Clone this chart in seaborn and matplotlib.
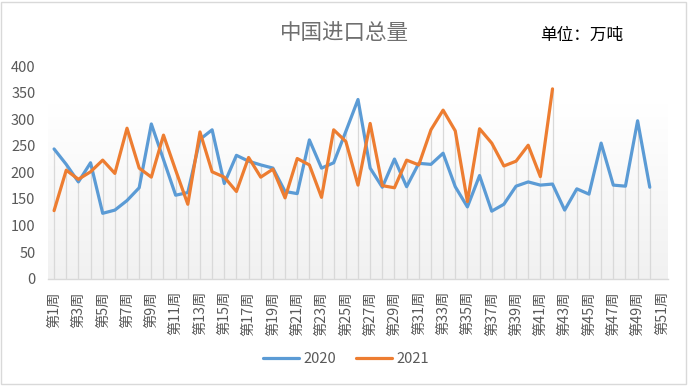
import numpy as np
import pandas as pd
import matplotlib
matplotlib.use("Agg")
import matplotlib.pyplot as plt
from matplotlib.patches import Rectangle
import seaborn as sns

# ---- data ----
weeks = [f"第{i}周" for i in range(1, 52)]
v2020 = [244, 215, 182, 218, 123, 129, 147, 171, 291, 224,
         157, 162, 262, 280, 179, 232, 221, 214, 208, 164,
         160, 261, 208, 218, 277, 337, 208, 172, 225, 173,
         217, 215, 236, 173, 135, 194, 127, 140, 174, 182,
         176, 178, 129, 169, 159, 255, 176, 174, 297, 172]
v2021 = [128, 204, 187, 201, 223, 198, 283, 208, 191, 270,
         204, 140, 276, 201, 191, 164, 228, 191, 206, 152,
         226, 214, 153, 280, 258, 176, 292, 175, 171, 223,
         214, 280, 317, 278, 145, 282, 255, 212, 221, 251,
         192, 357]
years = ["2020", "2021"]
title = "中国进口总量"
unit = "单位：万吨"
yticks = [0, 50, 100, 150, 200, 250, 300, 350, 400]

df = pd.concat([
    pd.DataFrame({"idx": np.arange(len(v2020)), "week": weeks[:len(v2020)], "value": v2020, "year": years[0]}),
    pd.DataFrame({"idx": np.arange(len(v2021)), "week": weeks[:len(v2021)], "value": v2021, "year": years[1]}),
], ignore_index=True)

sns.set_theme(style="white")
plt.rcParams["font.family"] = ["Noto Sans CJK SC", "DejaVu Sans"]
plt.rcParams["lines.solid_joinstyle"] = "round"
plt.rcParams["lines.solid_capstyle"] = "round"

W, H = 689, 386
fig = plt.figure(figsize=(W / 100, H / 100), dpi=100)
fig.patch.set_facecolor("white")

ax = fig.add_axes([48 / W, (H - 278.7) / H, 620 / W, 212.7 / H])
ax.set_facecolor("white")

n = len(weeks)
ax.set_xlim(-0.5, n - 0.5)
ax.set_ylim(0, 400)

# gradient background band
grad = np.linspace(0, 1, 256).reshape(-1, 1)
top = np.array([1.0, 1.0, 1.0])
bot = np.array([0.945, 0.945, 0.945])
img = top[None, None, :] * (1 - grad[..., None]) + bot[None, None, :] * grad[..., None]
ax.imshow(img, extent=(-0.5, n - 0.5, 0, 328), aspect="auto", zorder=0, origin="upper")

# drop lines
s20 = pd.Series(v2020)
s21 = pd.Series(v2021)
mx = pd.concat([s20, s21], axis=1).max(axis=1)
ax.vlines(mx.index, 0, mx.values, color="#d9d9d9", lw=0.9, zorder=1)

sns.lineplot(data=df, x="idx", y="value", hue="year", hue_order=years,
             palette={"2020": "#5B9BD5", "2021": "#ED7D31"},
             linewidth=2.3, ax=ax, zorder=3, legend=True)

handles, labels = ax.get_legend_handles_labels()
ax.get_legend().remove()
fig.legend(handles, labels, loc="center", bbox_to_anchor=(346 / W, 1 - 359 / H),
           bbox_transform=fig.transFigure, ncol=2, frameon=False,
           fontsize=10.5, handlelength=2.5, handletextpad=0.3, columnspacing=1.3,
           labelcolor="#595959")

ax.set_xticks(range(0, n, 2))
ax.set_xticklabels(weeks[::2], rotation=90, fontsize=10.3, color="#595959", va="top", ha="center")
ax.set_yticks(yticks)
ax.set_yticklabels([str(v) for v in yticks], fontsize=10.5, color="#595959")
ax.tick_params(axis="both", length=0)
ax.tick_params(axis="y", pad=9)
ax.tick_params(axis="x", pad=9)
ax.set_xlabel("")
ax.set_ylabel("")

for side in ["top", "right", "left"]:
    ax.spines[side].set_visible(False)
ax.spines["bottom"].set_color("#d9d9d9")
ax.spines["bottom"].set_linewidth(1)

fig.text(344 / W, 1 - 33 / H, title, ha="center", va="center", fontsize=15.5, color="#6f6f6f")
fig.text(540 / W, 1 - 35 / H, unit, ha="left", va="center", fontsize=12, color="black")

fig.patches.append(Rectangle((1 / W, 1 - 384 / H), 685 / W, 382 / H, transform=fig.transFigure,
                             fill=False, edgecolor="#d9d9d9", lw=1))

fig.savefig("out.png", dpi=100)
